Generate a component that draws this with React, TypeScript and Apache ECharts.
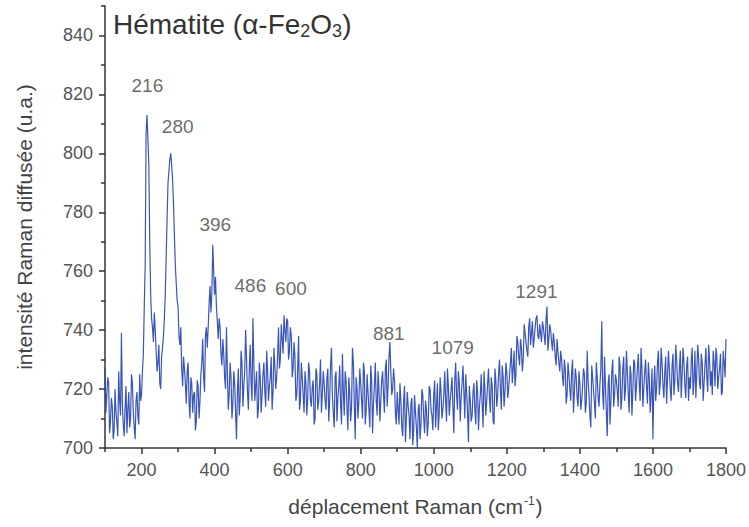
import React, { useEffect, useRef } from "react";
import * as echarts from "echarts";

// Raman spectrum sampling grid (cm-1): samples every 2.5 cm-1 from 100 to 1800
const ramanShiftStart = 100;
const ramanShiftStep = 2.5;

// Intensities at 100, 105, 110, ... cm-1 (one block per 100 cm-1)
const intensity100 = [727, 718, 722, 709, 714, 706, 712, 704, 716, 739, 708, 714, 705, 719, 710, 722, 707, 716, 711, 725];
const intensity200 = [718, 732, 762, 813, 796, 752, 741, 746, 733, 729, 722, 731, 738, 752, 778, 794, 800, 791, 772, 756];
const intensity300 = [748, 735, 727, 731, 722, 726, 716, 724, 712, 719, 709, 721, 716, 729, 724, 738, 734, 749, 746, 769];
const intensity400 = [752, 748, 737, 741, 728, 732, 720, 726, 718, 724, 715, 722, 703, 727, 717, 729, 721, 740, 719, 727];
const intensity500 = [722, 744, 716, 726, 713, 724, 718, 729, 714, 727, 721, 731, 719, 728, 724, 741, 730, 737, 745, 736];
const intensity600 = [743, 733, 738, 727, 731, 718, 738, 716, 724, 712, 722, 717, 726, 714, 723, 710, 725, 716, 730, 718];
const intensity700 = [722, 713, 727, 716, 734, 712, 724, 709, 721, 715, 732, 711, 723, 706, 719, 714, 729, 703, 720, 716];
const intensity800 = [722, 710, 726, 713, 719, 707, 723, 715, 729, 711, 720, 716, 726, 712, 730, 721, 736, 718, 727, 712];
const intensity900 = [719, 708, 716, 704, 721, 710, 714, 703, 717, 706, 712, 700, 715, 708, 718, 705, 713, 709, 720, 711];
const intensity1000 = [718, 707, 722, 712, 719, 713, 726, 709, 721, 716, 724, 705, 729, 713, 722, 717, 728, 710, 719, 702];
const intensity1100 = [716, 711, 722, 708, 719, 714, 725, 707, 720, 716, 727, 712, 721, 708, 723, 718, 730, 713, 724, 719];
const intensity1200 = [726, 720, 729, 722, 733, 725, 736, 728, 734, 730, 739, 733, 741, 735, 743, 737, 744, 738, 742, 736];
const intensity1300 = [741, 735, 748, 737, 740, 733, 736, 728, 733, 726, 730, 721, 727, 718, 725, 716, 730, 719, 724, 714];
const intensity1400 = [722, 716, 727, 712, 733, 718, 707, 724, 715, 729, 717, 722, 743, 713, 721, 704, 725, 716, 730, 718];
const intensity1500 = [723, 714, 728, 717, 731, 720, 726, 712, 725, 719, 729, 721, 732, 716, 727, 720, 730, 715, 724, 718];
const intensity1600 = [703, 728, 720, 733, 722, 729, 717, 731, 724, 727, 716, 732, 723, 730, 719, 733, 725, 729, 717, 731];
const intensity1700 = [724, 730, 718, 733, 725, 731, 720, 729, 722, 734, 719, 730, 726, 733, 721, 731, 724, 732, 719, 729, 737];

// Intensities at 102.5, 107.5, 112.5, ... cm-1
const intensityMid100 = [712, 724, 705, 717, 703, 720, 709, 726, 711, 715, 704, 721, 713, 707, 725, 712, 703, 719, 708, 716];
const intensityMid200 = [726, 748, 807, 805, 770, 744, 736, 740, 726, 735, 720, 734, 744, 765, 790, 798, 796, 783, 762, 750];
const intensityMid300 = [738, 741, 721, 727, 715, 729, 710, 722, 718, 706, 723, 710, 725, 737, 719, 741, 741, 755, 752, 760];
const intensityMid400 = [758, 743, 744, 732, 737, 724, 741, 713, 729, 710, 726, 712, 719, 711, 733, 714, 726, 730, 713, 735];
const intensityMid500 = [716, 729, 721, 710, 729, 712, 725, 719, 733, 716, 724, 713, 734, 720, 731, 727, 742, 732, 740, 744];
const intensityMid600 = [730, 741, 724, 736, 716, 727, 713, 729, 718, 726, 711, 729, 716, 721, 708, 727, 713, 722, 712, 726];
const intensityMid700 = [716, 724, 709, 728, 718, 707, 726, 717, 728, 708, 719, 726, 713, 724, 709, 734, 715, 724, 710, 727];
const intensityMid800 = [716, 729, 708, 725, 713, 728, 705, 721, 716, 726, 709, 723, 718, 727, 714, 731, 726, 720, 723, 708];
const intensityMid900 = [713, 722, 707, 716, 702, 719, 711, 715, 701, 718, 707, 713, 703, 720, 710, 716, 704, 721, 713, 706];
const intensityMid1000 = [723, 714, 706, 724, 710, 718, 716, 727, 711, 720, 714, 723, 718, 726, 709, 722, 719, 725, 712, 721];
const intensityMid1100 = [709, 719, 713, 723, 706, 718, 715, 726, 711, 722, 717, 724, 709, 727, 714, 725, 720, 728, 714, 729];
const intensityMid1200 = [717, 725, 734, 727, 721, 738, 731, 737, 726, 742, 736, 731, 744, 739, 734, 741, 745, 737, 739, 743];
const intensityMid1300 = [738, 744, 733, 742, 736, 739, 731, 737, 729, 733, 724, 730, 715, 729, 720, 726, 712, 727, 717, 726];
const intensityMid1400 = [713, 721, 725, 715, 723, 711, 728, 719, 710, 724, 714, 727, 718, 731, 712, 722, 708, 726, 714, 725];
const intensityMid1500 = [719, 731, 713, 727, 716, 733, 718, 728, 711, 730, 716, 727, 722, 734, 714, 726, 721, 729, 712, 727];
const intensityMid1600 = [721, 716, 729, 718, 734, 721, 726, 715, 733, 720, 728, 718, 735, 722, 727, 717, 734, 721, 728, 716];
const intensityMid1700 = [720, 734, 723, 717, 735, 722, 732, 716, 728, 724, 735, 721, 718, 729, 734, 720, 727, 718, 733, 724];

// Peak annotations: wavenumber label and where the label sits (data units)
const peakLabels = ["216", "280", "396", "486", "600", "881", "1079", "1291"];
const peakLabelX = [216, 299, 402, 498, 609, 877, 1052, 1281];
const peakLabelY = [823, 809, 776, 755, 754, 739, 734, 753];

// Axis ticks
const xMajorTicks = [200, 400, 600, 800, 1000, 1200, 1400, 1600, 1800];
const xMinorTicks = [100, 300, 500, 700, 900, 1100, 1300, 1500, 1700];
const yMajorTicks = [700, 720, 740, 760, 780, 800, 820, 840];
const yMinorTicks = [710, 730, 750, 770, 790, 810, 830, 850];

export default function App() {
  const ref = useRef<HTMLDivElement>(null);

  useEffect(() => {
    if (!ref.current) return;
    const chart = echarts.init(ref.current, undefined, { renderer: "svg" });

    const mainBlocks = [
      intensity100, intensity200, intensity300, intensity400, intensity500, intensity600,
      intensity700, intensity800, intensity900, intensity1000, intensity1100, intensity1200,
      intensity1300, intensity1400, intensity1500, intensity1600, intensity1700,
    ];
    const midBlocks = [
      intensityMid100, intensityMid200, intensityMid300, intensityMid400, intensityMid500, intensityMid600,
      intensityMid700, intensityMid800, intensityMid900, intensityMid1000, intensityMid1100, intensityMid1200,
      intensityMid1300, intensityMid1400, intensityMid1500, intensityMid1600, intensityMid1700,
    ];
    const intensities: number[] = [];
    mainBlocks.forEach((block, b) => {
      block.forEach((v, i) => {
        intensities.push(v);
        if (i < midBlocks[b].length) intensities.push(midBlocks[b][i]);
      });
    });
    const spectrum = intensities.map((v, i) => [ramanShiftStart + i * ramanShiftStep, v]);
    const labelData = peakLabels.map((t, i) => [peakLabelX[i], peakLabelY[i], t]);

    const font = "'Liberation Sans', Arial, sans-serif";
    const axisLineStyle = { color: "#333", width: 1.5 };

    chart.setOption({
      animation: false,
      textStyle: { fontFamily: font },
      grid: { left: 105, right: 21, top: 6, bottom: 79, containLabel: false },
      xAxis: [
        {
          type: "value",
          min: 100,
          max: 1800,
          interval: 100,
          position: "bottom",
          axisLine: { lineStyle: axisLineStyle },
          axisTick: { show: true, customValues: xMajorTicks, length: 6, lineStyle: axisLineStyle },
          axisLabel: {
            customValues: xMajorTicks,
            fontSize: 18,
            color: "#555",
            margin: 13,
            fontFamily: font,
            formatter: (v: number) => String(v),
          },
          splitLine: { show: false },
          name: "déplacement Raman (cm{sup|-1})",
          nameLocation: "middle",
          nameGap: 47,
          nameTextStyle: {
            fontSize: 21,
            color: "#444",
            fontFamily: font,
            rich: { sup: { fontSize: 12, color: "#444", padding: [0, 1, 11, 1], fontFamily: font } },
          },
        },
        {
          type: "value",
          min: 100,
          max: 1800,
          interval: 100,
          position: "bottom",
          axisLine: { show: false },
          axisTick: { show: true, customValues: xMinorTicks, length: 4, lineStyle: axisLineStyle },
          axisLabel: { show: false },
          splitLine: { show: false },
        },
      ],
      yAxis: [
        {
          type: "value",
          min: 700,
          max: 850,
          interval: 10,
          position: "left",
          axisLine: { show: true, lineStyle: axisLineStyle },
          axisTick: { show: true, customValues: yMajorTicks, length: 6, lineStyle: axisLineStyle },
          axisLabel: {
            customValues: yMajorTicks,
            fontSize: 18,
            color: "#555",
            margin: 12,
            fontFamily: font,
            formatter: (v: number) => String(v),
          },
          splitLine: { show: false },
          name: "intensité Raman diffusée (u.a.)",
          nameLocation: "middle",
          nameGap: 70,
          nameTextStyle: { fontSize: 21, color: "#444", fontFamily: font },
        },
        {
          type: "value",
          min: 700,
          max: 850,
          interval: 10,
          position: "left",
          axisLine: { show: false },
          axisTick: { show: true, customValues: yMinorTicks, length: 4, lineStyle: axisLineStyle },
          axisLabel: { show: false },
          splitLine: { show: false },
        },
      ],
      series: [
        {
          type: "line",
          data: spectrum,
          xAxisIndex: 0,
          yAxisIndex: 0,
          showSymbol: false,
          symbol: "none",
          lineStyle: { color: "#2343b3", width: 1.2, opacity: 0.9 },
          silent: true,
        },
        {
          type: "scatter",
          data: labelData,
          xAxisIndex: 0,
          yAxisIndex: 0,
          symbolSize: 0,
          silent: true,
          label: {
            show: true,
            position: "inside",
            formatter: (p: any) => p.value[2],
            fontSize: 19,
            color: "#444",
            fontFamily: font,
          },
        },
      ],
      graphic: [
        {
          type: "text",
          left: 113,
          top: 10,
          style: {
            text: "Hématite (α-Fe{sub|2}O{sub|3})",
            font: `28px ${font}`,
            fill: "#333",
            rich: {
              sub: { fontSize: 18, fill: "#333", padding: [14, 0, 0, 0], fontFamily: font },
            },
          },
        },
      ],
    });

    return () => chart.dispose();
  }, []);

  return <div ref={ref} style={{ width: 749, height: 527, position: "absolute", left: 0, top: 0 }} />;
}
